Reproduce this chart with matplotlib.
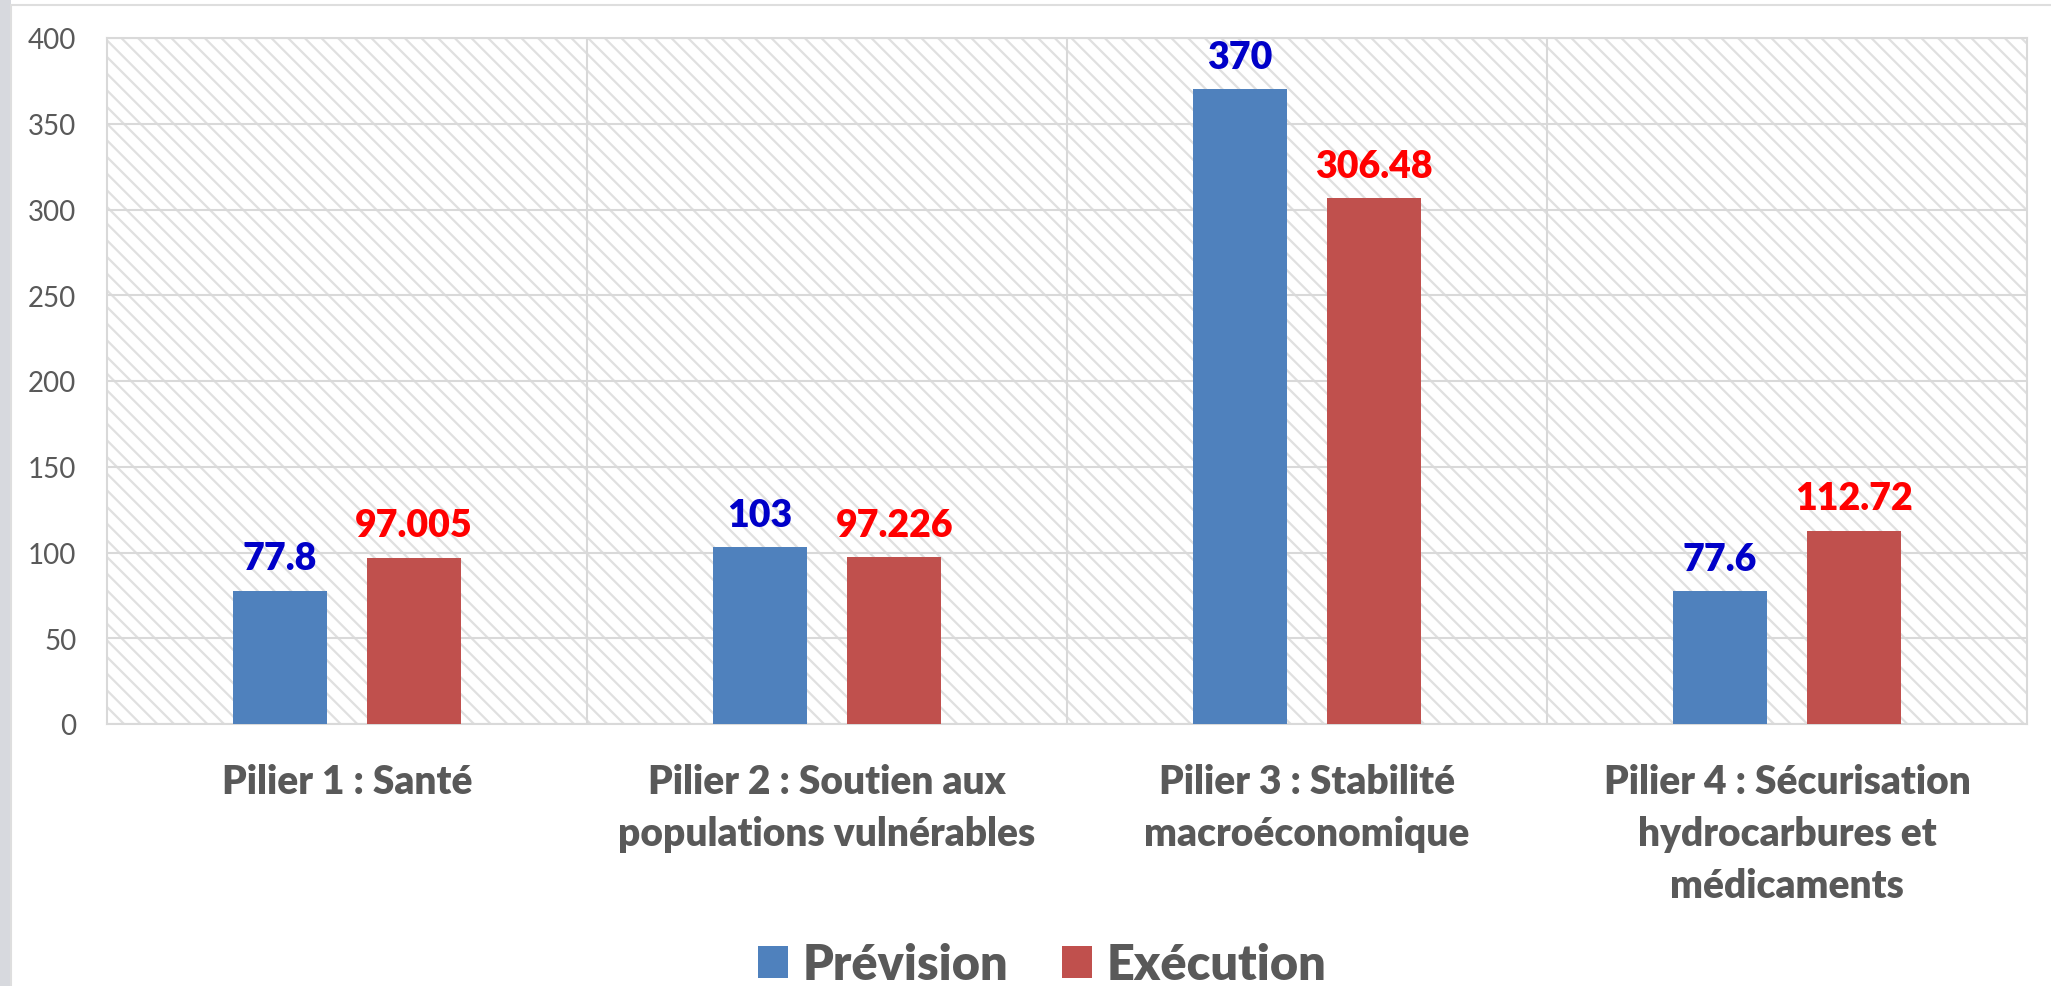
import matplotlib.pyplot as plt
import numpy as np
from matplotlib.patches import Rectangle

plt.rcParams['font.family'] = ['Lato', 'DejaVu Sans']
plt.rcParams['hatch.linewidth'] = 1.6

# Data
categories = ["Pilier 1 : Santé",
              "Pilier 2 : Soutien aux\npopulations vulnérables",
              "Pilier 3 : Stabilité\nmacroéconomique",
              "Pilier 4 : Sécurisation\nhydrocarbures et\nmédicaments"]
prevision = [77.8, 103, 370, 77.6]
execution = [97.005, 97.226, 306.48, 112.72]
prevision_labels = ["77.8", "103", "370", "77.6"]
execution_labels = ["97.005", "97.226", "306.48", "112.72"]
yticks = [0, 50, 100, 150, 200, 250, 300, 350, 400]

blue = '#4F81BD'
red = '#C0504D'
grid_col = '#d9d9d9'
text_col = '#595959'
wt = 'heavy'

fig = plt.figure(figsize=(20.51, 9.87), dpi=100)
ax = fig.add_axes([107/2051, 1 - 725/987, (2027-107)/2051, (725-39)/987])

# slide strip + outer frame
fig.add_artist(Rectangle((0, 0), 11/2051, 1, transform=fig.transFigure,
                         facecolor='#d7d9de', edgecolor='none', zorder=0))
fig.add_artist(Rectangle((11/2051, -0.05), 1.1, 1 - 6/987 + 0.05, transform=fig.transFigure,
                         facecolor='none', edgecolor='#dedede', lw=1.5, zorder=0))

# hatched plot background
ax.add_patch(Rectangle((0, 0), 1, 1, transform=ax.transAxes, fill=False,
                       hatch='\\\\', edgecolor='#e0e0e0', lw=0, zorder=0))

x = np.arange(len(categories))
w = 0.196
off = 0.14
b1 = ax.bar(x - off, prevision, w, color=blue, label='Prévision', zorder=3)
b2 = ax.bar(x + off, execution, w, color=red, label='Exécution', zorder=3)

for rect, lab in zip(b1, prevision_labels):
    ax.annotate(lab, (rect.get_x() + rect.get_width()/2, rect.get_height()),
                xytext=(0, 11), textcoords='offset points', ha='center', va='bottom',
                fontsize=27, fontweight=wt, color='#0000C8', zorder=4)
for rect, lab in zip(b2, execution_labels):
    ax.annotate(lab, (rect.get_x() + rect.get_width()/2, rect.get_height()),
                xytext=(0, 11), textcoords='offset points', ha='center', va='bottom',
                fontsize=27, fontweight=wt, color='#FF0000', zorder=4)

ax.set_xlim(-0.5, 3.5)
ax.set_ylim(0, 400)
ax.set_yticks(yticks)
ax.set_xticks(x)
ax.set_xticklabels(categories, fontsize=28, fontweight=wt, color=text_col,
                   linespacing=1.5)
ax.set_xticks([0.5, 1.5, 2.5], minor=True)
ax.tick_params(axis='x', which='both', length=0, pad=28)
ax.tick_params(axis='y', length=0, pad=22, labelsize=20, labelcolor=text_col)
ax.grid(axis='y', color=grid_col, lw=1.5, zorder=1)
ax.grid(axis='x', which='minor', color=grid_col, lw=1.5, zorder=1)
for s in ax.spines.values():
    s.set_color(grid_col)
    s.set_linewidth(1.5)

leg = fig.legend(handles=[b1, b2], loc='lower center', bbox_to_anchor=(0.508, -0.026),
                 ncol=2, frameon=False, prop={'size': 35, 'weight': wt},
                 handlelength=0.62, handleheight=0.62, handletextpad=0.3,
                 columnspacing=1.1, borderpad=0)
for t in leg.get_texts():
    t.set_color(text_col)

plt.savefig('out.png', dpi=100)
